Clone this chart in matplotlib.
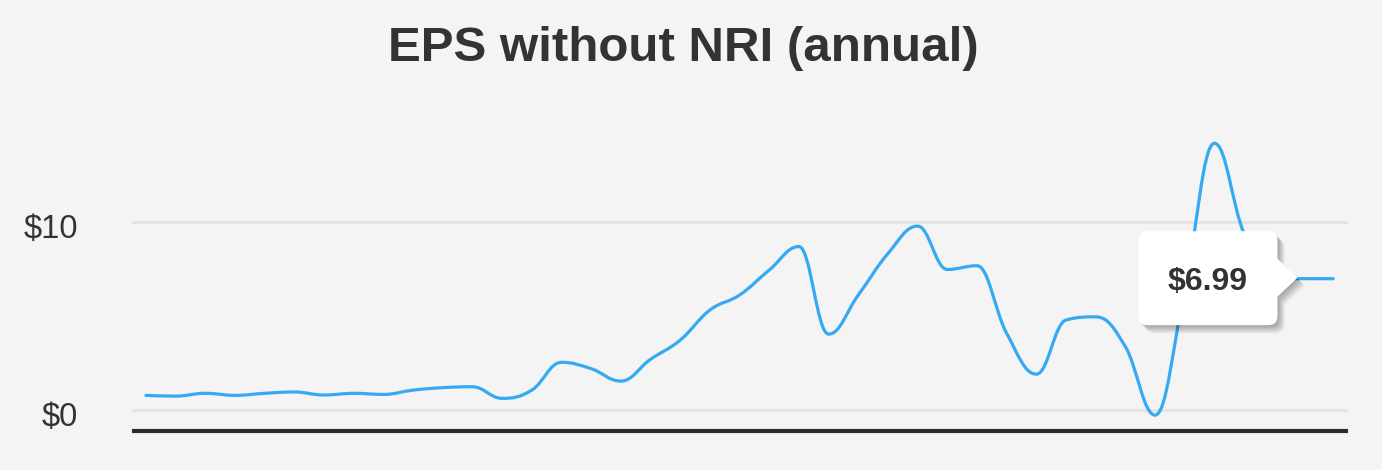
import numpy as np
import matplotlib
matplotlib.use("Agg")
import matplotlib.pyplot as plt
from matplotlib.path import Path
from matplotlib.patches import PathPatch
from matplotlib.transforms import Affine2D, ScaledTranslation

# ---- data ----
eps_values = [0.78, 0.74, 0.89, 0.78, 0.89, 0.96, 0.80, 0.89, 0.83, 1.06,
              1.19, 1.24, 0.62, 1.06, 2.54, 2.20, 1.54, 2.70, 3.72, 5.32,
              6.12, 7.45, 8.70, 4.04, 6.12, 8.33, 9.79, 7.48, 7.68, 4.08,
              1.91, 4.79, 4.96, 3.37, -0.27, 6.40, 14.20, 9.40, 7.20, 6.99,
              6.99]
y_ticks = [0, 10]
y_tick_labels = ["$0", "$10"]
title_text = "EPS without NRI (annual)"
tooltip_index = 39
tooltip_label = "$6.99"

BG = "#f4f4f4"
LINE = "#35aaf2"
TXT = "#333333"
FONT = "Liberation Sans"

W, H = 1382, 470
fig = plt.figure(figsize=(W / 100, H / 100), dpi=100, facecolor=BG)
ax = fig.add_axes([132 / W, 1 - 430.7 / H, (1348 - 132) / W, (430.7 - 100) / H])
ax.set_facecolor(BG)

n = len(eps_values)
xs = np.arange(n, dtype=float)
ys = np.array(eps_values, dtype=float)
ax.set_xlim(-0.47, n - 1 + 0.5)
ax.set_ylim(-1.10, 16.5)


def spline_path(xv, yv, smoothing=1.5):
    """Highcharts-like spline bezier path through the points."""
    denom = smoothing + 1
    m = len(xv)
    lc = [None] * m
    rc = [None] * m
    for i in range(m):
        px, py = xv[i], yv[i]
        if 0 < i < m - 1:
            lx, ly = xv[i - 1], yv[i - 1]
            nx, ny = xv[i + 1], yv[i + 1]
            lcx = (smoothing * px + lx) / denom
            lcy = (smoothing * py + ly) / denom
            rcx = (smoothing * px + nx) / denom
            rcy = (smoothing * py + ny) / denom
            if rcx != lcx:
                corr = ((rcy - lcy) * (rcx - px)) / (rcx - lcx) + py - rcy
                lcy += corr
                rcy += corr
            if lcy > max(ly, py):
                lcy = max(ly, py); rcy = 2 * py - lcy
            elif lcy < min(ly, py):
                lcy = min(ly, py); rcy = 2 * py - lcy
            if rcy > max(py, ny):
                rcy = max(py, ny); lcy = 2 * py - rcy
            elif rcy < min(py, ny):
                rcy = min(py, ny); lcy = 2 * py - rcy
            lc[i] = (lcx, lcy)
            rc[i] = (rcx, rcy)
        else:
            lc[i] = (px, py)
            rc[i] = (px, py)
    verts = [(xv[0], yv[0])]
    codes = [Path.MOVETO]
    for i in range(1, m):
        verts += [rc[i - 1], lc[i], (xv[i], yv[i])]
        codes += [Path.CURVE4] * 3
    return Path(verts, codes)


# grid lines
for t in y_ticks:
    ax.axhline(t, color="#e4e4e4", lw=2.2, zorder=1)

ax.add_patch(PathPatch(spline_path(xs, ys), facecolor="none", edgecolor=LINE,
                       lw=2.3, zorder=3, capstyle="round", joinstyle="round"))

for s in ["top", "right", "left"]:
    ax.spines[s].set_visible(False)
ax.spines["bottom"].set_color("#2b2b2b")
ax.spines["bottom"].set_linewidth(3.0)
ax.spines["bottom"].set_capstyle("butt")
ax.set_xticks([])
ax.set_yticks(y_ticks)
ax.set_yticklabels(y_tick_labels, fontsize=23.5, color=TXT, family=FONT)
ax.tick_params(axis="y", length=0, pad=39)
for lab in ax.get_yticklabels():
    lab.set_transform(lab.get_transform() + ScaledTranslation(0, -0.04, fig.dpi_scale_trans))

fig.text(683.5 / W, 1 - 61 / H, title_text, ha="center", va="baseline",
         fontsize=35.5, fontweight="bold", color=TXT, family=FONT)

# ---- tooltip ----
fig.canvas.draw()
ax_disp = ax.transData.transform((xs[tooltip_index], ys[tooltip_index]))


def tooltip_path(left, right, bottom, top, tipx, tipy, half, r):
    v = [(left + r, top), (right - r, top), (right, top), (right, top - r),
         (right, tipy + half), (tipx, tipy), (right, tipy - half),
         (right, bottom + r), (right, bottom), (right - r, bottom),
         (left + r, bottom), (left, bottom), (left, bottom + r),
         (left, top - r), (left, top), (left + r, top), (left + r, top)]
    c = [Path.MOVETO, Path.LINETO, Path.CURVE3, Path.CURVE3,
         Path.LINETO, Path.LINETO, Path.LINETO,
         Path.LINETO, Path.CURVE3, Path.CURVE3,
         Path.LINETO, Path.CURVE3, Path.CURVE3,
         Path.LINETO, Path.CURVE3, Path.CURVE3, Path.CLOSEPOLY]
    return Path(v, c)


tp = tooltip_path(-165, -26, -46.5, 47.5, -6, 1.0, 19, 9)
base = Affine2D().translate(ax_disp[0], ax_disp[1])
for k in range(1, 10):
    sh = PathPatch(tp, facecolor="black", edgecolor="none", alpha=0.04,
                   transform=Affine2D().translate(k * 0.8, -k * 0.9) + base,
                   zorder=9)
    fig.add_artist(sh)
fig.add_artist(PathPatch(tp, facecolor="white", edgecolor="none",
                         transform=base, zorder=10))
fig.text((ax_disp[0] - 95.5) / W, (ax_disp[1] - 3) / H, tooltip_label,
         ha="center", va="center", fontsize=23, fontweight="bold",
         color=TXT, family=FONT, zorder=11)

fig.savefig("out.png", dpi=100, facecolor=BG)
